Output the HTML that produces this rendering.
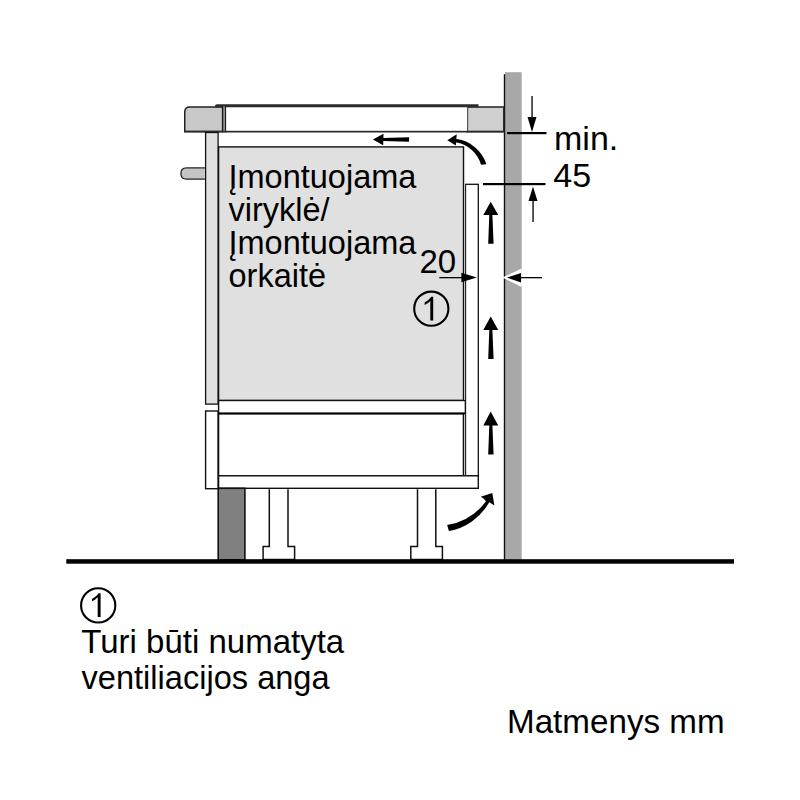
<!DOCTYPE html>
<html><head><meta charset="utf-8">
<style>
html,body{margin:0;padding:0;background:#fff;width:800px;height:800px;overflow:hidden}
svg{display:block;position:absolute;left:0;top:0}
text{font-family:"Liberation Sans",sans-serif;fill:#000}
</style></head><body>
<svg width="800" height="800" viewBox="0 0 800 800">
<!-- wall -->
<rect x="505" y="72.2" width="16.7" height="488" fill="#a8a8a8"/>
<rect x="503.8" y="74.2" width="1.4" height="486" fill="#111"/>
<!-- countertop left -->
<path d="M184.75,131.6 L184.75,112 Q184.75,107 189.75,107 L222.6,107 L222.6,131.6 Z" fill="#c8c8c8" stroke="#222" stroke-width="1.5"/>
<!-- countertop right -->
<rect x="467.3" y="107" width="36.5" height="24.6" fill="#d0d0d0" stroke="#222" stroke-width="1.5"/>
<rect x="466.4" y="106.3" width="1.7" height="26" fill="#111"/>
<!-- hob glass -->
<rect x="225.4" y="106" width="241.9" height="25.6" fill="#fff"/>
<path d="M215,107.3 L215,106.2 Q215,104.3 217,104.3 L478.5,104.3 L478.5,107.3 Z" fill="#2b2b2b"/>
<rect x="223.2" y="106" width="1.6" height="26" fill="#999"/>
<rect x="222" y="106" width="1.3" height="26.5" fill="#1a1a1a"/>
<rect x="224.8" y="106" width="1.3" height="26.5" fill="#1a1a1a"/>
<rect x="184" y="130.8" width="320" height="1.7" fill="#2a2a2a"/>
<!-- side panel left -->
<rect x="205.6" y="132.5" width="12.5" height="271.6" fill="#e0e0e0" stroke="#111" stroke-width="1.3"/>
<!-- handle -->
<path d="M204.9,167.9 L186.5,167.9 Q180.9,167.9 180.9,173.5 Q180.9,179.1 186.5,179.1 L204.9,179.1" fill="#c4c4c4" stroke="#222" stroke-width="1.3"/>
<!-- oven -->
<rect x="218.6" y="146.9" width="244.9" height="253.6" fill="#e0e0e0" stroke="#111" stroke-width="1.4"/>
<!-- cabinet lower -->
<rect x="205.6" y="411" width="12.5" height="77.7" fill="#fff" stroke="#111" stroke-width="1.4"/>
<rect x="218.6" y="400.5" width="246.9" height="75.3" fill="#fff" stroke="#111" stroke-width="1.4"/>
<rect x="218.6" y="413.5" width="244.8" height="62.3" fill="#fff" stroke="#111" stroke-width="1.4"/>
<rect x="218" y="412.5" width="247.5" height="2" fill="#000"/>
<!-- right side panel -->
<rect x="465.5" y="184.3" width="12.8" height="291.5" fill="#fff" stroke="#111" stroke-width="1.3"/>
<rect x="464.1" y="147.6" width="1" height="252.2" fill="#c8c8c8"/>
<rect x="464.1" y="414.5" width="1" height="60.6" fill="#c8c8c8"/>
<!-- bottom shelf -->
<rect x="218.6" y="475.8" width="259.7" height="12.5" fill="#fff" stroke="#111" stroke-width="1.4"/>
<!-- plinth -->
<rect x="218.2" y="488.3" width="26.7" height="71.5" fill="#808080" stroke="#111" stroke-width="1.6"/>
<!-- legs -->
<path d="M269.3,489.2 L269.3,546.6 L263.1,546.6 L263.1,559.5 L294.6,559.5 L294.6,546.6 L288,546.6 L288,489.2" fill="#fff" stroke="#111" stroke-width="1.5"/>
<path d="M417.5,489.2 L417.5,546.6 L410.8,546.6 L410.8,559.5 L442.4,559.5 L442.4,546.6 L435.8,546.6 L435.8,489.2" fill="#fff" stroke="#111" stroke-width="1.5"/>
<!-- floor -->
<rect x="66.3" y="559.2" width="667.7" height="4.5" fill="#000"/>

<!-- arrows up -->
<g fill="#000">
<path d="M490.7,201.8 L498.2,215 L492.4,215 L493.6,243.8 L488.2,243.8 L489.3,215 L483.3,215 Z"/>
<path d="M490.7,316.4 L498.2,330 L492.4,330 L493.6,359 L488.2,359 L489.3,330 L483.3,330 Z"/>
<path d="M490.7,411.6 L498.2,425.6 L492.4,425.6 L493.6,454.4 L488.2,454.4 L489.3,425.6 L483.3,425.6 Z"/>
<!-- left arrow -->
<path d="M372.9,139.5 L383.5,133.75 L383.4,138.1 L409.1,137.2 L409.1,141.8 L383.3,140.9 L383.2,145.25 Z"/>
<!-- curved arrow top -->
<path d="M447.4,140.3 L456.7,134.15 L455.8,145.4 Z"/>
<path d="M455.5,139.1 L456.75,139.1 A36.6,36.6 0 0 1 486.4,164.3 L481,164.8 A31,31 0 0 0 456.75,142.6 L455.5,142.6 Z"/>
<!-- curved arrow bottom -->
<path d="M480.75,496.75 L492.3,493.05 L494.4,505.5 Z"/>
<path d="M447.15,525.1 A60.6,60.6 0 0 0 486,501.3 L484,499 L490,498 L488.8,503 A58.1,58.1 0 0 1 448.9,531 Z"/>
</g>

<!-- dimension lines -->
<rect x="507" y="132" width="39.5" height="2.2" fill="#000"/>
<rect x="483" y="183" width="62.5" height="2.2" fill="#000"/>
<rect x="531.4" y="96" width="1.3" height="22" fill="#000"/>
<path d="M532,132 L527.5,117 L536.5,117 Z" fill="#000"/>
<rect x="532.4" y="200" width="1.3" height="22" fill="#000"/>
<path d="M533,186.4 L528.5,201 L537.5,201 Z" fill="#000"/>
<!-- 20 dim -->
<rect x="439.3" y="277" width="23" height="1.3" fill="#000"/>
<path d="M476.8,277.6 L461.4,272.8 L461.4,282.2 Z" fill="#000"/>
<path d="M502.3,277.6 L521.7,268.4 L521.7,287 Z" fill="#fff"/>
<rect x="520" y="277" width="22" height="1.3" fill="#000"/>
<path d="M507,277.6 L521,272.9 L521,282.4 Z" fill="#000"/>

<!-- texts -->
<text x="228.5" y="187.9" font-size="32.5">Įmontuojama</text>
<text x="228.5" y="220.8" font-size="32.5">viryklė/</text>
<text x="228.5" y="253.7" font-size="32.5">Įmontuojama</text>
<text x="228.5" y="286.6" font-size="32.5">orkaitė</text>
<text x="419.5" y="273" font-size="33">20</text>
<circle cx="431.3" cy="308.7" r="17.1" fill="none" stroke="#000" stroke-width="2.1"/>
<path transform="translate(431.3,308.8)" d="M1.9,-12 L1.9,11.8 L-1,11.8 L-1,-7.9 Q-3.2,-5.4 -6.6,-3.9 L-6.7,-6.3 Q-2.3,-8.6 0,-12 Z" fill="#000"/>

<text x="554" y="149.8" font-size="34">min.</text>
<text x="553.3" y="187.4" font-size="34">45</text>

<circle cx="98.2" cy="605.4" r="17.1" fill="none" stroke="#000" stroke-width="2.1"/>
<path transform="translate(98.7,605.2)" d="M1.9,-12 L1.9,11.8 L-1,11.8 L-1,-7.9 Q-3.2,-5.4 -6.6,-3.9 L-6.7,-6.3 Q-2.3,-8.6 0,-12 Z" fill="#000"/>
<text x="81.3" y="652.5" font-size="33">Turi būti numatyta</text>
<text x="81.5" y="688.8" font-size="32.6">ventiliacijos anga</text>
<text x="507" y="732.6" font-size="33.2">Matmenys mm</text>
</svg>
</body></html>
